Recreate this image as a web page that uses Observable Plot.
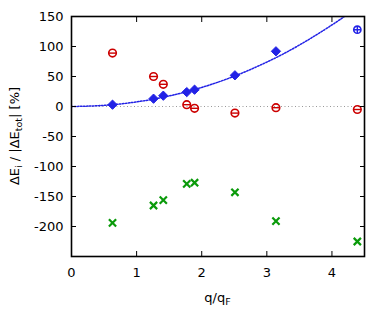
<!DOCTYPE html>
<html><head><meta charset="utf-8">
<script src="https://cdn.jsdelivr.net/npm/d3@7"></script>
<script src="https://cdn.jsdelivr.net/npm/@observablehq/plot@0.6"></script>
<style>body{margin:0;background:#fff}</style>
</head><body><div id="chart"></div>
<script>
// q/qF positions of the computed points
const q = [0.63, 1.26, 1.41, 1.77, 1.89, 2.51, 3.14, 4.39];
// ΔE_i / |ΔE_tot| [%] per component
const blueVals = [3, 13, 18, 24, 28, 52, 92, 128];
const redVals = [89, 50, 37, 3, -3, -11, -2, -5];
const greenVals = [-194, -165, -156, -129, -127, -143, -191, -225];
// dotted fit curve
const fitX = [0, 0.5, 1, 1.5, 2, 2.5, 3, 3.5, 4, 4.25];
const fitY = [0, 1.9, 7.7, 17.6, 31.8, 50.5, 74, 102.4, 135.9, 154.6];
const xTicks = [0, 1, 2, 3, 4];
const yTicks = [-200, -150, -100, -50, 0, 50, 100, 150];

const BLUE = "#2222e6", RED = "#cc0000", GREEN = "#0a9a0a";
const pts = q.map((x, i) => ({x, b: blueVals[i], r: redVals[i], g: greenVals[i], last: i === q.length - 1}));
const fit = fitX.map((x, i) => ({x, y: fitY[i]}));

const minus = {draw(ctx, size) { const r = Math.sqrt(size / Math.PI); ctx.moveTo(-r, 0); ctx.lineTo(r, 0); }};
const plus = {draw(ctx, size) { const r = Math.sqrt(size / Math.PI); ctx.moveTo(-r, 0); ctx.lineTo(r, 0); ctx.moveTo(0, -r); ctx.lineTo(0, r); }};
const cross = {draw(ctx, size) { const r = Math.sqrt(size / Math.PI); ctx.moveTo(-r, -r); ctx.lineTo(r, r); ctx.moveTo(-r, r); ctx.lineTo(r, -r); }};

const svg = Plot.plot({
  width: 390, height: 323,
  marginLeft: 71, marginRight: 26, marginTop: 16, marginBottom: 67,
  style: {fontFamily: "'DejaVu Sans', sans-serif", fontSize: "13px", color: "#000", background: "#fff", overflow: "visible"},
  x: {domain: [0, 4.5]},
  y: {domain: [-250, 150]},
  marks: [
    Plot.ruleY([0], {stroke: "#999", strokeDasharray: "1,2.5", strokeWidth: 1}),
    Plot.line(fit, {x: "x", y: "y", stroke: BLUE, strokeWidth: 1.5, strokeDasharray: "1.5,1.5", curve: "natural", clip: true}),
    Plot.dot(pts.filter(d => !d.last), {x: "x", y: "b", symbol: "diamond2", r: 4.2, fill: BLUE, stroke: BLUE, strokeWidth: 1}),
    Plot.dot(pts.filter(d => d.last), {x: "x", y: "b", symbol: "circle", r: 3.6, stroke: BLUE, strokeWidth: 1.6}),
    Plot.dot(pts.filter(d => d.last), {x: "x", y: "b", symbol: plus, r: 3.6, stroke: BLUE, strokeWidth: 1.4}),
    Plot.dot(pts, {x: "x", y: "r", symbol: "circle", r: 3.8, stroke: RED, strokeWidth: 1.6}),
    Plot.dot(pts, {x: "x", y: "r", symbol: minus, r: 3.8, stroke: RED, strokeWidth: 1.4}),
    Plot.dot(pts, {x: "x", y: "g", symbol: cross, r: 3.6, stroke: GREEN, strokeWidth: 2.2}),
    Plot.axisX({ticks: xTicks, tickSize: -5, tickPadding: 16, tickFormat: d => String(d), label: null}),
    Plot.axisX({anchor: "top", ticks: xTicks, tickSize: -5, tickFormat: () => "", label: null}),
    Plot.axisY({ticks: yTicks, tickSize: -5, tickPadding: 13, tickFormat: d => String(d), label: null}),
    Plot.axisY({anchor: "right", ticks: yTicks, tickSize: -5, tickFormat: () => "", label: null}),
    Plot.frame({stroke: "#000", strokeWidth: 1.6})
  ]
});

const s = d3.select(svg);
const yl = s.append("text")
  .attr("transform", "translate(19,136) rotate(-90)")
  .attr("text-anchor", "middle")
  .attr("fill", "#000").style("font-size", "13px");
yl.append("tspan").text("ΔE");
yl.append("tspan").attr("dy", "3").style("font-size", "9.5px").text("i");
yl.append("tspan").attr("dy", "-3").text(" / |ΔE");
yl.append("tspan").attr("dy", "3").style("font-size", "9.5px").text("tot");
yl.append("tspan").attr("dy", "-3").text("| [%]");

const xl = s.append("text")
  .attr("x", 217.5).attr("y", 302)
  .attr("text-anchor", "middle")
  .attr("fill", "#000").style("font-size", "13px");
xl.append("tspan").text("q/q");
xl.append("tspan").attr("dy", "3").style("font-size", "9.5px").text("F");

document.getElementById("chart").appendChild(svg);
</script>
</body></html>
